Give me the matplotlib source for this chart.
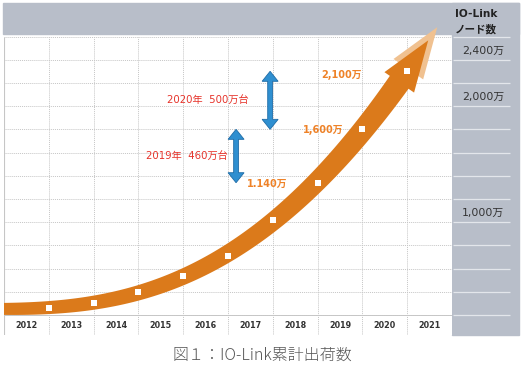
import numpy as np
import matplotlib.pyplot as plt
from matplotlib.patches import Polygon, Rectangle

plt.rcParams['font.family'] = ['DejaVu Sans', 'Noto Sans CJK JP']

# data (cumulative IO-Link nodes, unit: 万)
years = ['2012', '2013', '2014', '2015', '2016', '2017', '2018', '2019', '2020', '2021']
marker_pos = [1, 2, 3, 4, 5, 6, 7, 8, 9]          # end of 2012 ... end of 2020
cum_nodes = [60, 100, 200, 340, 510, 820, 1140, 1600, 2100]
band_start = 55                                    # left end of the band

value_labels = ['1.140万', '1,600万', '2,100万']
value_label_idx = [6, 7, 8]
value_label_offsets = [(-50, -1), (-39, -1), (-66, -4)]   # pixels

incr_texts = ['2019年  460万台', '2020年  500万台']
incr_from = [1140, 1600]
incr_to = [1600, 2100]
incr_arrow_x = [5.18, 5.94]
incr_text_x = [5.0, 5.45]

axis_vals = [2400, 2000, 1000]
axis_labels = ['2,400万', '2,000万', '1,000万']

ORANGE = '#DB7A1B'
LIGHT = '#F0C190'
GREY = '#B8BEC9'
RED = '#E6332A'
BLUE = '#2F8FD0'

W, H = 522, 381
fig = plt.figure(figsize=(W / 100, H / 100), dpi=100)


def fx(px):
    return px / W


def fy(py):
    return 1 - py / H


# background pieces (banner on top, panel at right), behind the axes
fig.patches.append(Rectangle((fx(3), fy(34)), 516 / W, 31 / H, transform=fig.transFigure,
                             color=GREY, zorder=-2))
fig.patches.append(Rectangle((fx(452), fy(335)), 67 / W, 332 / H, transform=fig.transFigure,
                             color=GREY, zorder=-2))

top_px, zero_px, bot_px = 36.5, 315.0, 335.0
vmax = 2400
ybot = -vmax * (bot_px - zero_px) / (zero_px - top_px)
ax = fig.add_axes([fx(4), fy(bot_px), 448 / W, (bot_px - top_px) / H])
ax.set_xlim(0, 10)
ax.set_ylim(ybot, vmax)
ax.set_facecolor('white')
for s in ax.spines.values():
    s.set_visible(False)
ax.set_xticks([])
ax.set_yticks([])

grid_vals = list(range(0, vmax + 1, 200))
ax.hlines(grid_vals, 0, 10, colors='#C6C6C6', linestyles=(0, (1, 1)), lw=0.7, zorder=1)
ax.vlines(range(1, 10), ybot, vmax, colors='#C6C6C6', linestyles=(0, (1, 1)), lw=0.7, zorder=1)
ax.vlines([0], ybot, vmax, colors='#C6C6C6', lw=0.8, zorder=1)
ax.hlines([0], 0, 10, colors='#C6C6C6', lw=0.7, zorder=1)
# light lines on the right panel
ax.hlines(grid_vals, 10.02, 11.29, colors='#E3E6EB', lw=0.9, clip_on=False, zorder=1)

for i, y in enumerate(years):
    ax.text(i + 0.5, ybot / 2, y, ha='center', va='center', fontsize=5.8,
            fontweight='bold', color='#333333')

for v, lab in zip(axis_vals, axis_labels):
    ax.text(11.17, v - 120, lab, ha='right', va='center', fontsize=7.8,
            color='#333333', clip_on=False)

fig.text(fx(455), fy(14), 'IO-Link', ha='left', va='center', fontsize=7.6,
         fontweight='bold', color='#222222')
fig.text(fx(455), fy(29), 'ノード数', ha='left', va='center', fontsize=7.6,
         fontweight='bold', color='#222222', family=['Noto Sans CJK JP'])

# ---- orange growth band: smooth fit through the points, in pixel space ----
xs = [0] + marker_pos
vs = [band_start] + cum_nodes
P = ax.transData.transform(np.column_stack([xs, vs]))
coef = np.polyfit(P[:, 0], P[:, 1], 4)
cx = np.linspace(P[0, 0], P[-1, 0], 300)
curve = np.column_stack([cx, np.polyval(coef, cx)])
slope = np.polyval(np.polyder(coef), P[-1, 0])
end_dir = np.array([1.0, slope]) / np.hypot(1.0, slope)
end_pt = curve[-1]

tang = np.gradient(curve, axis=0)
tang /= np.linalg.norm(tang, axis=1)[:, None]
norm = np.column_stack([-tang[:, 1], tang[:, 0]])
arc = np.concatenate([[0], np.cumsum(np.linalg.norm(np.diff(curve, axis=0), axis=1))])
width = 12 + (23 - 12) * arc / arc[-1]
left = curve + norm * width[:, None] / 2
right = curve - norm * width[:, None] / 2
inv = ax.transData.inverted()
band = inv.transform(np.vstack([left, right[::-1]]))
ax.add_patch(Polygon(band, closed=True, color=ORANGE, lw=0, zorder=3))


def head(center, shift):
    nrm = np.array([-end_dir[1], end_dir[0]])
    base = center - 14 * end_dir + shift * end_dir
    tip = center + 37 * end_dir + shift * end_dir
    return inv.transform(np.array([base + 18 * nrm, tip, base - 18 * nrm]))


ax.add_patch(Polygon(head(end_pt, 16), closed=True, color=LIGHT, lw=0, zorder=2, clip_on=False))
ax.add_patch(Polygon(head(end_pt, 0), closed=True, color=ORANGE, lw=0, zorder=3, clip_on=False))

ax.plot(marker_pos, cum_nodes, 's', ms=4.8, mfc='white', mew=0, zorder=5)

for lab, idx, off in zip(value_labels, value_label_idx, value_label_offsets):
    ax.annotate(lab, (marker_pos[idx], cum_nodes[idx]), xytext=off,
                textcoords='offset pixels', ha='center', va='center',
                fontsize=7, fontweight='bold', color='#EE8228')


# ---- blue double arrows for yearly increments ----
def double_arrow(x, v0, v1):
    (px, y0), (_, y1) = ax.transData.transform([(x, v0), (x, v1)])
    hl, hw, sw = 10, 8, 2.4
    pts = [(px, y0), (px + hw, y0 + hl), (px + sw, y0 + hl), (px + sw, y1 - hl),
           (px + hw, y1 - hl), (px, y1), (px - hw, y1 - hl), (px - sw, y1 - hl),
           (px - sw, y0 + hl), (px - hw, y0 + hl)]
    ax.add_patch(Polygon(inv.transform(pts), closed=True, facecolor=BLUE,
                         edgecolor='#1E6BA6', lw=0.6, zorder=4))


for txt, a, b, axx, tx in zip(incr_texts, incr_from, incr_to, incr_arrow_x, incr_text_x):
    double_arrow(axx, a, b)
    ax.text(tx, (a + b) / 2, txt, ha='right', va='center', fontsize=7.3,
            color=RED, fontweight='normal')

fig.text(fx(262), fy(355), '図１：IO-Link累計出荷数', ha='center', va='center',
         fontsize=11.5, color='#555555', family=['Noto Sans CJK JP'], fontweight='light')

fig.savefig('out.png', dpi=100)
